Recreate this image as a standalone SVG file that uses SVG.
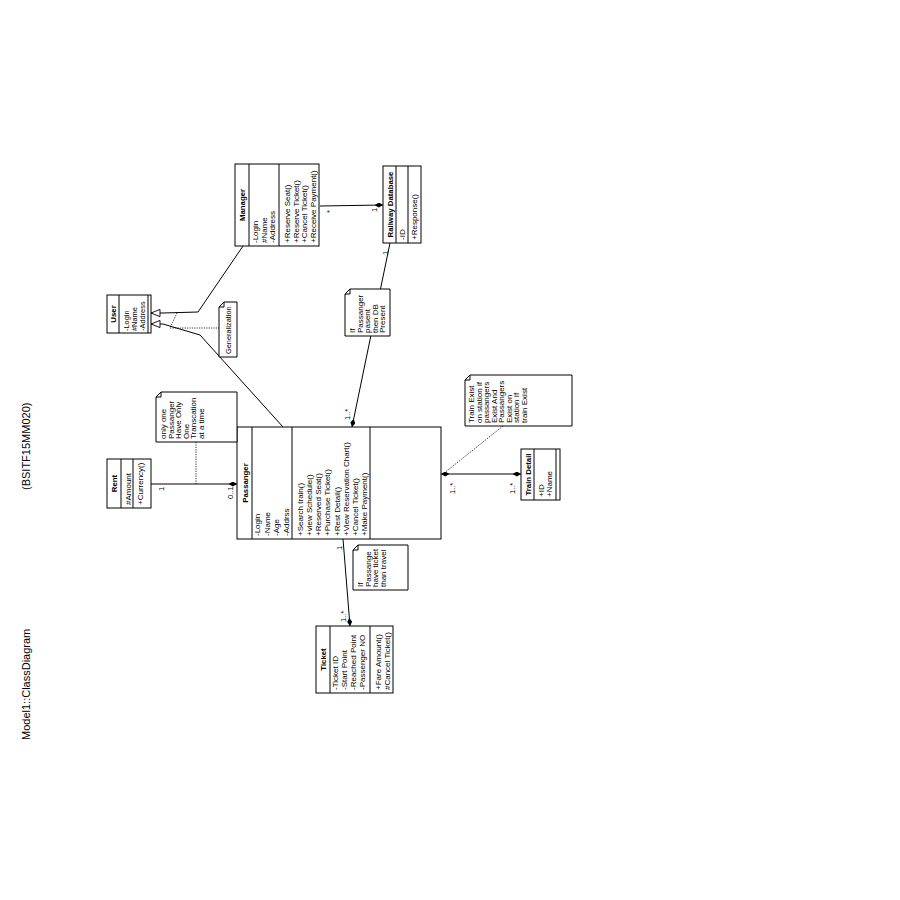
<svg xmlns="http://www.w3.org/2000/svg" width="900" height="900" viewBox="0 0 900 900">
  <style>
    .box { fill: #fff; stroke: #000; stroke-width: 1; }
    .sep { stroke: #000; stroke-width: 1; }
    .note { fill: #fff; stroke: #000; stroke-width: 1; }
    .t { font-family: "Liberation Sans", Arial, sans-serif; font-size: 8px; fill: #000; }
    .s { font-size: 7.4px; }
    .h { font-family: "Liberation Sans", Arial, sans-serif; font-size: 7.8px; font-weight: bold; text-anchor: middle; fill: #000; }
    .lbl { font-family: "Liberation Sans", Arial, sans-serif; font-size: 7.5px; fill: #000; }
    .title { font-family: "Liberation Sans", Arial, sans-serif; font-size: 11px; fill: #000; }
    .line { stroke: #000; stroke-width: 1; fill: none; }
    .dot { stroke: #000; stroke-width: 0.8; stroke-dasharray: 1.2 1.2; fill: none; }
  </style>
  <defs>
    <marker id="dia" viewBox="0 0 10 6" refX="10" refY="3" markerWidth="9" markerHeight="5" markerUnits="userSpaceOnUse" orient="auto-start-reverse">
      <path d="M0,3 L5,0 L10,3 L5,6 Z" fill="#000"/>
    </marker>
    <marker id="gen" viewBox="0 0 12 10" refX="11" refY="5" markerWidth="11" markerHeight="9" markerUnits="userSpaceOnUse" orient="auto">
      <path d="M1,1 L11,5 L1,9 Z" fill="#fff" stroke="#000" stroke-width="1"/>
    </marker>
  </defs>
  <rect width="900" height="900" fill="#fff"/>

  <!-- whole class diagram is laid out landscape, then turned a quarter turn -->
  <g transform="translate(0,900) rotate(-90)">

    <text class="title" x="160" y="30">Model1::ClassDiagram</text>
    <text class="title" x="410" y="30">(BSITF15MM020)</text>

    <!-- connectors -->
    <g id="connectors">
      <!-- Manager -> Railway Database -->
      <line class="line" x1="694" y1="320" x2="695" y2="383" marker-end="url(#dia)"/>
      <text class="lbl" x="687" y="332">*</text>
      <text class="lbl" x="688" y="377">1</text>

      <!-- generalizations to User -->
      <polyline class="line" points="654,243 588,198 587,163 587,151" marker-end="url(#gen)"/>
      <polyline class="line" points="473,283 565,200 576,163 576,151" marker-end="url(#gen)"/>
      <polyline class="dot" points="587,177 572,170 572,219"/>

      <!-- Rent - Passanger -->
      <line class="line" x1="416" y1="151" x2="416" y2="237" marker-end="url(#dia)"/>
      <text class="lbl" x="409" y="164">1</text>
      <text class="lbl" x="401" y="233">0..1</text>
      <line class="dot" x1="458" y1="196" x2="416" y2="196"/>

      <!-- Railway Database - Passanger -->
      <line class="line" x1="657" y1="390" x2="473" y2="352" marker-end="url(#dia)"/>
      <text class="lbl" x="645" y="388">1</text>
      <text class="lbl" x="480" y="350">1..*</text>

      <!-- Passanger - Train Detail -->
      <line class="line" x1="426" y1="441" x2="426" y2="521" marker-start="url(#dia)" marker-end="url(#dia)"/>
      <text class="lbl" x="406" y="455">1..*</text>
      <text class="lbl" x="406" y="515">1..*</text>
      <line class="dot" x1="474" y1="503" x2="426" y2="443"/>

      <!-- Passanger - Ticket -->
      <line class="line" x1="361" y1="343" x2="274" y2="350" marker-end="url(#dia)"/>
      <text class="lbl" x="350" y="342">1</text>
      <text class="lbl" x="278" y="346">1..*</text>
    </g>

    <!-- classes -->
    <g id="manager">
      <rect class="box" x="654" y="235" width="82" height="84"/>
      <line class="sep" x1="654" y1="249" x2="736" y2="249"/>
      <line class="sep" x1="654" y1="279" x2="736" y2="279"/>
      <text class="h" x="695" y="245">Manager</text>
      <text class="t" x="657" y="258">-Login</text>
      <text class="t" x="657" y="266.5">#Name</text>
      <text class="t" x="657" y="275">-Address</text>
      <text class="t" x="657" y="290">+Reserve Seat()</text>
      <text class="t" x="657" y="298.7">+Reserve Ticket()</text>
      <text class="t" x="657" y="307.4">+Cancel Ticket()</text>
      <text class="t" x="657" y="316">+Receive Payment()</text>
    </g>

    <g id="railway-database">
      <rect class="box" x="657" y="383" width="77" height="38"/>
      <line class="sep" x1="657" y1="396" x2="734" y2="396"/>
      <line class="sep" x1="657" y1="408" x2="734" y2="408"/>
      <text class="h" x="695.5" y="393">Railway Database</text>
      <text class="t" x="660" y="405">-ID</text>
      <text class="t" x="660" y="417">+Response()</text>
    </g>

    <g id="user">
      <rect class="box" x="567" y="107" width="38" height="44"/>
      <line class="sep" x1="567" y1="119" x2="605" y2="119"/>
      <line class="sep" x1="567" y1="148" x2="605" y2="148"/>
      <text class="h" x="586" y="116">User</text>
      <text class="t s" x="569" y="129">-Login</text>
      <text class="t s" x="569" y="137">#Name</text>
      <text class="t s" x="569" y="145">-Address</text>
    </g>

    <g id="rent">
      <rect class="box" x="392" y="107" width="49" height="44"/>
      <line class="sep" x1="392" y1="121" x2="441" y2="121"/>
      <line class="sep" x1="392" y1="133" x2="441" y2="133"/>
      <text class="h" x="416.5" y="117">Rent</text>
      <text class="t" x="395" y="130.5">#Amount</text>
      <text class="t" x="395" y="143">+Currency()</text>
    </g>

    <g id="passanger">
      <rect class="box" x="361" y="237" width="112" height="204"/>
      <line class="sep" x1="361" y1="252" x2="473" y2="252"/>
      <line class="sep" x1="361" y1="292" x2="473" y2="292"/>
      <line class="sep" x1="361" y1="370" x2="473" y2="370"/>
      <text class="h" x="417" y="248">Passanger</text>
      <text class="t" x="364" y="260">-Login</text>
      <text class="t" x="364" y="269.7">-Name</text>
      <text class="t" x="364" y="279.4">-Age</text>
      <text class="t" x="364" y="289">-Addrss</text>
      <text class="t" x="364" y="302.5">+Search train()</text>
      <text class="t" x="364" y="311.8">+view Schedule()</text>
      <text class="t" x="364" y="321.1">+Reserved Seat()</text>
      <text class="t" x="364" y="330.4">+Purchase Ticket()</text>
      <text class="t" x="364" y="339.7">+Rest Detail()</text>
      <text class="t" x="364" y="349">+View Reservation Chart()</text>
      <text class="t" x="364" y="358.3">+Cancel Ticket()</text>
      <text class="t" x="364" y="367.4">+Make Payment()</text>
    </g>

    <g id="ticket">
      <rect class="box" x="207" y="316" width="67" height="77"/>
      <line class="sep" x1="207" y1="330" x2="274" y2="330"/>
      <line class="sep" x1="207" y1="370" x2="274" y2="370"/>
      <text class="h" x="240.5" y="326">Ticket</text>
      <text class="t" x="210" y="338">-Ticket ID</text>
      <text class="t" x="210" y="347">-Start Point</text>
      <text class="t" x="210" y="356">-Reached Point</text>
      <text class="t" x="210" y="365">-Passenger NO</text>
      <text class="t" x="210" y="380.5">+Fare Amount()</text>
      <text class="t" x="210" y="390">#Cancel Ticket()</text>
    </g>

    <g id="train-detail">
      <rect class="box" x="400" y="521" width="51" height="39"/>
      <line class="sep" x1="400" y1="534" x2="451" y2="534"/>
      <line class="sep" x1="400" y1="556" x2="451" y2="556"/>
      <text class="h" x="425.5" y="531">Train Detail</text>
      <text class="t" x="403" y="544">+ID</text>
      <text class="t" x="403" y="552">+Name</text>
    </g>

    <!-- notes (folded corner at the upper right) -->
    <g id="note-generalization">
      <path class="note" d="M543,219 H593 L598,224 V237 H543 Z"/>
      <path class="line" d="M593,219 V224 H598"/>
      <text class="t s" x="546" y="231">Generalization</text>
    </g>

    <g id="note-rent">
      <path class="note" d="M458,156 H503 L508,161 V237 H458 Z"/>
      <path class="line" d="M503,156 V161 H508"/>
      <text class="t" x="461" y="166">only one</text>
      <text class="t" x="461" y="173.5">Passanger</text>
      <text class="t" x="461" y="181">Have Only</text>
      <text class="t" x="461" y="188.7">One</text>
      <text class="t" x="461" y="196.3">Transcation</text>
      <text class="t" x="461" y="204">at a time</text>
    </g>

    <g id="note-database">
      <path class="note" d="M564,345 H606 L611,350 V390 H564 Z"/>
      <path class="line" d="M606,345 V350 H611"/>
      <text class="t" x="567" y="355">If</text>
      <text class="t" x="567" y="362.5">Passanger</text>
      <text class="t" x="567" y="370">pasent</text>
      <text class="t" x="567" y="377.5">then DB</text>
      <text class="t" x="567" y="385">Present</text>
    </g>

    <g id="note-train">
      <path class="note" d="M474,465 H520 L525,470 V572 H474 Z"/>
      <path class="line" d="M520,465 V470 H525"/>
      <text class="t" x="477" y="474">Train Exist</text>
      <text class="t" x="477" y="481.5">on station if</text>
      <text class="t" x="477" y="489">passangers</text>
      <text class="t" x="477" y="496.5">Exist And</text>
      <text class="t" x="477" y="504">Passangers</text>
      <text class="t" x="477" y="511.5">Exist on</text>
      <text class="t" x="477" y="519">station If</text>
      <text class="t" x="477" y="526.5">train Exist</text>
    </g>

    <g id="note-ticket">
      <path class="note" d="M310,353 H350 L355,358 V408 H310 Z"/>
      <path class="line" d="M350,353 V358 H355"/>
      <text class="t" x="313" y="363">If</text>
      <text class="t" x="313" y="370.5">Passange</text>
      <text class="t" x="313" y="378">have ticket</text>
      <text class="t" x="313" y="385.5">than travel</text>
    </g>
  </g>
</svg>
